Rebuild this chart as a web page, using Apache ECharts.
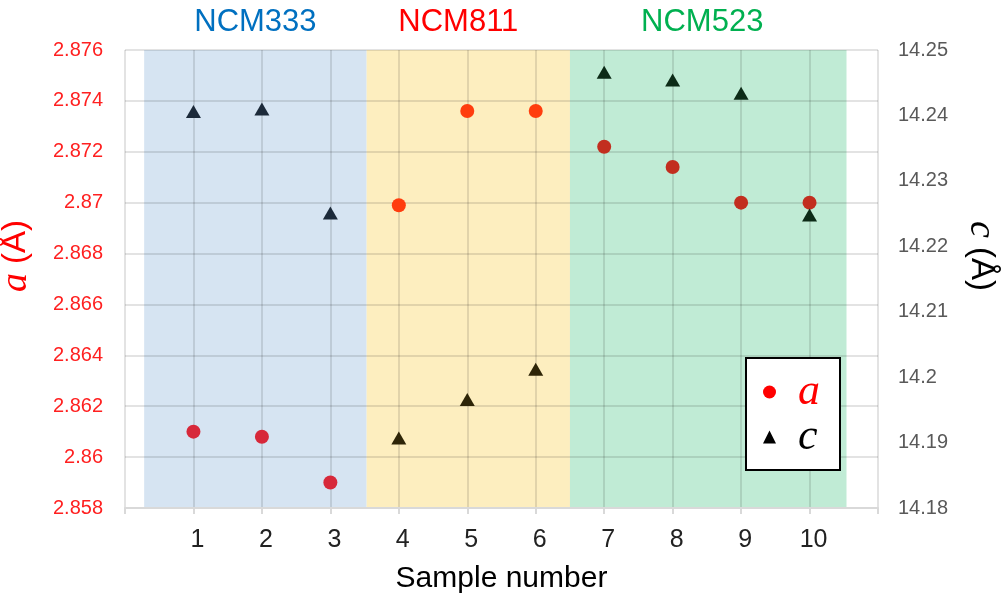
<!DOCTYPE html>
<html>
<head>
<meta charset="utf-8">
<script src="https://cdn.jsdelivr.net/npm/echarts@6/dist/echarts.min.js"></script>
<style>html,body{margin:0;padding:0;background:#fff}#c{width:1008px;height:598px}</style>
</head>
<body>
<div id="c"></div>
<script>
const samples = [1, 2, 3, 4, 5, 6, 7, 8, 9, 10];
const aValues = [2.8610, 2.8608, 2.8590, 2.8699, 2.8736, 2.8736, 2.8722, 2.8714, 2.8700, 2.8700];
const cValues = [14.2406, 14.2410, 14.2251, 14.1907, 14.1966, 14.2012, 14.2466, 14.2454, 14.2434, 14.2248];
const groupNames = ['NCM333', 'NCM811', 'NCM523'];
const groupStart = [0.28, 3.53, 6.5];
const groupEnd = [3.53, 6.5, 10.54];
const aTicks = [2.858, 2.876, 0.002];
const cTicks = [14.18, 14.25, 0.01];

const groupFill = ['#d6e4f2', '#fdeebf', '#c0ebd5'];
const groupTextColor = ['#0070c0', '#ff0000', '#00b050'];
const groupLabelOffset = [[0, 0], [-10, 0], [-6, 0]];
const aColors = ['#d7283a', '#ff3d0e', '#c22e1f'];
const cColors = ['#1c2a3a', '#2e2507', '#0c2b17'];

function groupOf(x) {
  for (let i = 0; i < groupStart.length; i++) {
    if (x >= groupStart[i] && x <= groupEnd[i]) return i;
  }
  return 0;
}

const aData = samples.map((s, i) => [s, aValues[i]]);
const cData = samples.map((s, i) => [s, cValues[i]]);

const markAreaData = groupNames.map((n, i) => [
  { name: n, xAxis: groupStart[i], itemStyle: { color: groupFill[i] },
    label: { color: groupTextColor[i], offset: groupLabelOffset[i] } },
  { xAxis: groupEnd[i] }
]);

const gridColor = 'rgba(0,0,0,0.11)';
const sans = '"Liberation Sans", Arial, sans-serif';
const serif = '"Liberation Serif", "Times New Roman", serif';

const chart = echarts.init(document.getElementById('c'), null, { renderer: 'canvas' });
chart.setOption({
  animation: false,
  backgroundColor: '#ffffff',
  grid: { left: 125, right: 130, top: 50, bottom: 90, containLabel: false, outerBoundsMode: 'none' },
  xAxis: {
    type: 'value', min: 0, max: 11, interval: 1, z: 1.5,
    name: 'Sample number', nameLocation: 'middle', nameGap: 56,
    nameTextStyle: { fontSize: 30, color: '#000', fontFamily: sans },
    axisLine: { show: true, lineStyle: { color: '#d9d9d9', width: 2 } },
    axisTick: { show: true, length: 6, lineStyle: { color: '#d9d9d9', width: 2 } },
    splitLine: { show: true, lineStyle: { color: gridColor, width: 2 } },
    axisLabel: {
      fontSize: 25, color: '#222', fontFamily: sans, margin: 20, padding: [0, 0, 0, 8],
      formatter: v => (samples.indexOf(v) >= 0 ? String(v) : '')
    }
  },
  yAxis: [
    {
      type: 'value', min: aTicks[0], max: aTicks[1], interval: aTicks[2], z: 1.5,
      name: '{i|a} (Å)', nameLocation: 'middle', nameRotate: 90, nameGap: 90,
      nameTextStyle: {
        fontSize: 33, color: '#ff0000', fontFamily: sans, padding: [0, 0, 0, 46],
        rich: { i: { fontSize: 38, fontStyle: 'italic', fontFamily: serif, color: '#ff0000' } }
      },
      axisLine: { show: false }, axisTick: { show: false },
      splitLine: { show: true, lineStyle: { color: gridColor, width: 2 } },
      axisLabel: { fontSize: 20, color: '#ff2020', fontFamily: sans, margin: 22 }
    },
    {
      type: 'value', min: cTicks[0], max: cTicks[1], interval: cTicks[2], z: 1.5,
      name: '{i|c} (Å)', nameLocation: 'middle', nameRotate: -90, nameGap: 84,
      nameTextStyle: {
        fontSize: 33, color: '#000', fontFamily: sans, padding: [0, 46, 0, 0],
        rich: { i: { fontSize: 38, fontStyle: 'italic', fontFamily: serif, color: '#000' } }
      },
      axisLine: { show: false }, axisTick: { show: false }, splitLine: { show: false },
      axisLabel: { fontSize: 20, color: '#595959', fontFamily: sans, margin: 20 }
    }
  ],
  legend: {
    orient: 'vertical', left: 746, top: 358,
    backgroundColor: '#ffffff', borderColor: '#000', borderWidth: 2,
    padding: [12, 20, 11, 17], itemGap: 1, itemWidth: 13, itemHeight: 13,
    textStyle: { fontSize: 44, fontFamily: serif, fontStyle: 'italic', lineHeight: 44, padding: [0, 0, 0, 17] },
    data: [
      { name: 'a', icon: 'circle', itemStyle: { color: '#ff0000' }, textStyle: { color: '#ff0000' } },
      { name: 'c', icon: 'triangle', itemStyle: { color: '#000000' }, textStyle: { color: '#000000' } }
    ]
  },
  series: [
    {
      name: 'a', type: 'scatter', yAxisIndex: 0, symbol: 'circle', symbolSize: 14, z: 3,
      data: aData,
      itemStyle: { color: p => aColors[groupOf(p.value[0])], opacity: 1 },
      markArea: {
        silent: true, z: 1,
        label: { show: true, position: 'top', distance: 12, fontSize: 31, fontFamily: sans },
        data: markAreaData
      }
    },
    {
      name: 'c', type: 'scatter', yAxisIndex: 1, symbol: 'triangle', symbolSize: [15, 13], z: 3,
      data: cData,
      itemStyle: { color: p => cColors[groupOf(p.value[0])], opacity: 1 }
    }
  ]
});
</script>
</body>
</html>
